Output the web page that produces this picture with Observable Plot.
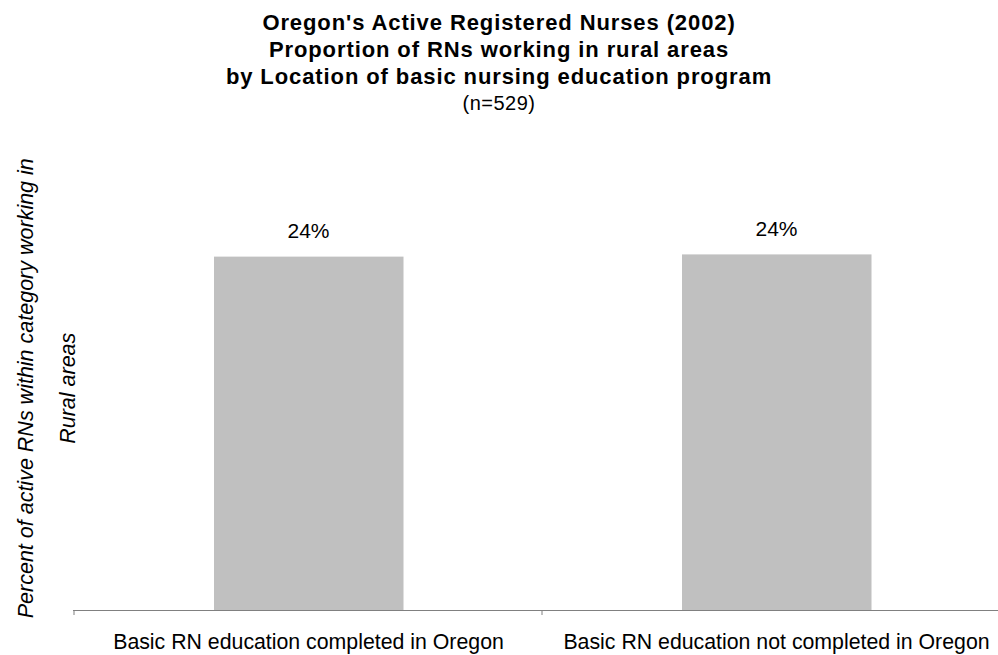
<!DOCTYPE html>
<html>
<head>
<meta charset="utf-8">
<script src="https://cdn.jsdelivr.net/npm/d3@7"></script>
<script src="https://cdn.jsdelivr.net/npm/@observablehq/plot@0.6"></script>
<style>
  html, body { margin: 0; padding: 0; background: #fff; overflow: hidden; width: 998px; height: 655px; }
  #titles { width: 998px; height: 120px; text-align: center; font-family: "Liberation Sans", Arial, sans-serif; color: #000; padding-top: 9px; box-sizing: border-box; }
  #titles .t { font-weight: bold; font-size: 22px; line-height: 27px; letter-spacing: 0.9px; }
  #titles .n { font-size: 20px; line-height: 27px; letter-spacing: 0.5px; }
  #chart svg { display: block; max-width: none !important; width: 1010px; height: 535px; }
</style>
</head>
<body>
<div id="titles">
  <div class="t">Oregon's Active Registered Nurses (2002)</div>
  <div class="t">Proportion of RNs working in rural areas</div>
  <div class="t">by Location of basic nursing education program</div>
  <div class="n">(n=529)</div>
</div>
<div id="chart"></div>
<script>
const categories = ["Basic RN education completed in Oregon", "Basic RN education not completed in Oregon"];
const values = [23.85, 24.0];
const valueLabels = ["24%", "24%"];
const yLabel = "Percent of active RNs within category working in\nRural areas";

const data = categories.map((c, i) => ({category: c, value: values[i], label: valueLabels[i]}));

// band-edge ticks drawn from the x scale
function edgeTicks(index, scales, values, dims) {
  const g = d3.create("svg:g");
  const n = categories.length;
  const step = (dims.width - dims.marginLeft - dims.marginRight) / n;
  const y0 = scales.y(0);
  const xs = categories.map(c => scales.x(c));
  xs.push(xs[n - 1] + step);
  for (const x of xs) {
    g.append("line").attr("x1", x).attr("x2", x).attr("y1", y0).attr("y2", y0 + 5)
      .attr("stroke", "#808080").attr("stroke-width", 1);
  }
  return g.node();
}

const chart = Plot.plot({
  width: 1010,
  height: 535,
  marginLeft: 73,
  marginRight: 0,
  marginTop: 45.5,
  marginBottom: 45,
  style: {fontFamily: "'Liberation Sans', Arial, sans-serif", background: "#fff", color: "#000", overflow: "visible"},
  x: {domain: categories, paddingInner: 0, paddingOuter: 0, label: null},
  y: {domain: [0, 30], axis: null},
  marks: [
    Plot.barY(data, {x: "category", y: "value", fill: "#c0c0c0", insetLeft: 140, insetRight: 138.5}),
    Plot.text(data, {x: "category", y: "value", text: "label", dy: -26, fontSize: 21, fill: "#000"}),
    Plot.ruleY([0], {stroke: "#808080", strokeWidth: 1}),
    edgeTicks,
    Plot.axisX({tickSize: 0, tickPadding: 23, fontSize: 21.3, fill: "#000", label: null}),
    Plot.text([yLabel], {frameAnchor: "left", textAnchor: "middle", rotate: -90, dx: -33, fontSize: 21.5, fontStyle: "italic", lineHeight: 1.95, fill: "#000"})
  ]
});
document.getElementById("chart").appendChild(chart);
</script>
</body>
</html>
